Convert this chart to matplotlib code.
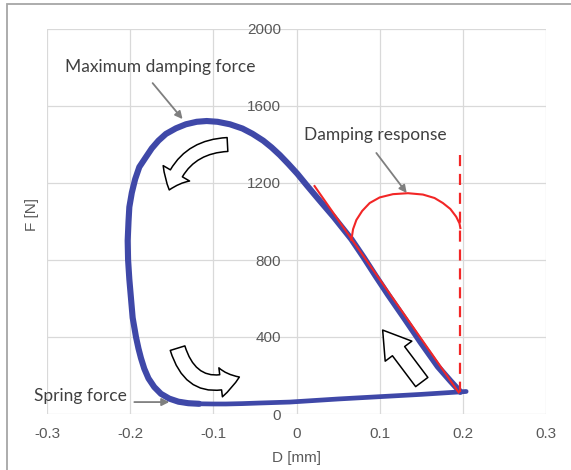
import numpy as np
import matplotlib.pyplot as plt
from matplotlib.patches import FancyArrowPatch, Rectangle

# force-displacement loop (D in mm, F in N)
# upper part: from the right corner, up the damping branch, over the top, down the left side
D_upper = [0.197, 0.185, 0.170, 0.150, 0.130, 0.110, 0.095, 0.081, 0.066, 0.045,
           0.026, 0.012, 0.001, -0.010, -0.020, -0.030, -0.040, -0.053, -0.065, -0.080,
           -0.095, -0.108, -0.120, -0.133, -0.145, -0.157, -0.166, -0.174, -0.181, -0.189,
           -0.194, -0.198, -0.201, -0.202, -0.203, -0.2025, -0.201, -0.199, -0.197, -0.193,
           -0.190, -0.187, -0.183, -0.178, -0.171, -0.163, -0.153, -0.142, -0.130, -0.117]
F_upper = [115, 172, 246, 368, 495, 620, 718, 812, 908, 1022,
           1118, 1190, 1248, 1300, 1345, 1385, 1420, 1456, 1483, 1505,
           1518, 1522, 1518, 1505, 1484, 1455, 1420, 1380, 1335, 1283,
           1220, 1150, 1075, 1000, 900, 800, 700, 600, 500, 400,
           340, 290, 235, 185, 140, 105, 80, 64, 56, 53]
# lower part: spring branch back to the right corner
D_lower = [-0.142, -0.130, -0.117, -0.100, -0.085, -0.065, -0.045, -0.008, 0.050, 0.100,
           0.150, 0.197, 0.204]
F_lower = [64, 56, 53, 52, 52, 54, 57, 62, 78, 90,
           102, 115, 117]

# damping response arc
D_arc = [0.066, 0.068, 0.072, 0.079, 0.088, 0.100, 0.116, 0.134, 0.152, 0.166,
         0.176, 0.185, 0.192, 0.196, 0.197]
F_arc = [904, 960, 1008, 1055, 1096, 1125, 1142, 1147, 1140, 1122,
         1096, 1065, 1025, 990, 966]

# tangent line and max displacement line
D_tangent = [0.0217, 0.195]
F_tangent = [1184, 112]
D_limit = [0.197, 0.197]
F_limit = [1345, 115]

x_ticks = [-0.3, -0.2, -0.1, 0, 0.1, 0.2, 0.3]
x_labels = ['-0.3', '-0.2', '-0.1', '0', '0.1', '0.2', '0.3']
y_ticks = [0, 400, 800, 1200, 1600, 2000]

W, H = 571, 470
fig = plt.figure(figsize=(W / 100, H / 100), dpi=100)
ax = fig.add_axes([47 / W, 56 / H, 499 / W, 385 / H])

blue = '#3F48A8'
red = '#F22626'
txt = '#404040'
tick_col = '#595959'

ax.plot(D_upper, F_upper, color=blue, lw=4.4, solid_joinstyle='round',
        solid_capstyle='round', zorder=3)
ax.plot(D_lower, F_lower, color=blue, lw=3.4, solid_joinstyle='round',
        solid_capstyle='round', zorder=3)
ax.plot(D_tangent, F_tangent, color=red, lw=1.5, zorder=4)
ax.plot(D_arc, F_arc, color=red, lw=1.5, zorder=4)
ax.plot(D_limit, F_limit, color=red, lw=1.6, dashes=(5, 3.5), zorder=4)

ax.set_xlim(-0.3, 0.3)
ax.set_ylim(0, 2000)
ax.set_xticks(x_ticks)
ax.set_xticklabels(x_labels)
ax.set_yticks(y_ticks)
ax.grid(True, color='#D9D9D9', lw=0.9)
ax.set_axisbelow(True)
for s in ax.spines.values():
    s.set_visible(False)
ax.spines['left'].set_position(('data', 0))
ax.tick_params(axis='both', length=0, labelcolor=tick_col, labelsize=11)
ax.tick_params(axis='x', pad=9)
ax.tick_params(axis='y', pad=11)
for lab in ax.get_xticklabels() + ax.get_yticklabels():
    lab.set_family('Liberation Sans')

fig.text(32 / W, 1 - 215 / H, 'F [N]', rotation=90, ha='center', va='center',
         color=tick_col, fontsize=11, family='Liberation Sans')
fig.text(297 / W, 1 - 458 / H, 'D [mm]', ha='center', va='center',
         color=tick_col, fontsize=11, family='Liberation Sans')

# labels with gray pointer arrows
ann = dict(ha='center', va='center', color=txt, fontsize=12.5, family='Lato')
gray_arrow = dict(arrowstyle='-|>', color='#7F7F7F', lw=1.3, mutation_scale=11,
                  shrinkA=0, shrinkB=0)
ax.text(-0.1633, 1803, 'Maximum damping force', **ann)
ax.annotate('', xy=(-0.137, 1532), xytext=(-0.173, 1719), arrowprops=gray_arrow)
ax.text(0.0952, 1449, 'Damping response', **ann)
ax.annotate('', xy=(0.1325, 1148), xytext=(0.096, 1356), arrowprops=gray_arrow)
ax.text(-0.260, 94, 'Spring force', **ann)
ax.annotate('', xy=(-0.153, 62), xytext=(-0.195, 62), arrowprops=gray_arrow)

# hollow block arrows showing direction of travel
def block(a, b, rad, tail, head_w, head_l):
    p = FancyArrowPatch(a, b, connectionstyle='arc3,rad=%g' % rad,
                        arrowstyle='simple,head_length=%g,head_width=%g,tail_width=%g'
                        % (head_l, head_w, tail),
                        fc='white', ec='black', lw=1.1, shrinkA=0, shrinkB=0,
                        zorder=5)
    ax.add_patch(p)

block((-0.083, 1400), (-0.153, 1164), 0.35, 10, 22, 13)
block((-0.143, 342), (-0.0687, 192), 0.55, 11, 21, 14)
block((0.1506, 166), (0.1036, 436), 0, 11, 24, 19)

# outer chart frame
fig.add_artist(Rectangle((7 / W, -0.1), 1.0, 1 - 4 / H + 0.1, transform=fig.transFigure,
                         fill=False, ec='#A6A6A6', lw=1.3))

fig.savefig('out.png', dpi=100)
